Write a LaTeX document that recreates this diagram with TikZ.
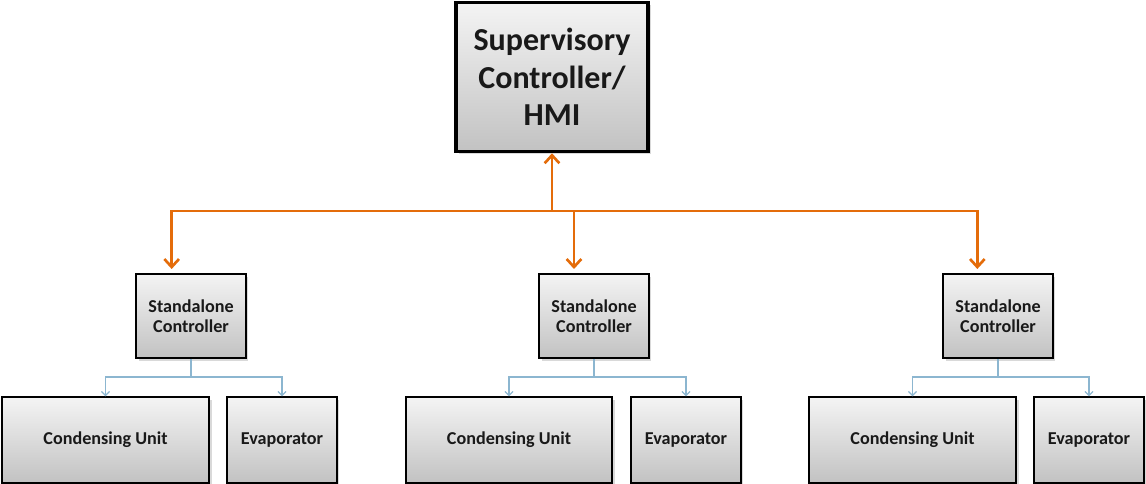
\documentclass[tikz,border=0pt]{standalone}
\usepackage{fontspec}
\setmainfont{Carlito}
\usetikzlibrary{arrows.meta,shadows}
\definecolor{orng}{RGB}{228,108,10}
\definecolor{lblue}{RGB}{140,182,208}
\definecolor{gtop}{RGB}{244,244,244}
\definecolor{gbot}{RGB}{194,194,194}
\tikzset{
  gbox/.style={draw=black, line width=1.5pt, top color=gtop, bottom color=gbot,
    align=center, inner sep=0pt, font=\bfseries\fontsize{13.6}{15}\selectfont, text=black!90,
    drop shadow={shadow xshift=2pt, shadow yshift=-2pt, opacity=0.3}},
  topbox/.style={gbox, line width=2.4pt, minimum width=144pt, minimum height=112pt,
    font=\bfseries\fontsize{24}{28}\selectfont},
  ctrl/.style={gbox, minimum width=82pt, minimum height=63pt},
  cond/.style={gbox, minimum width=155pt, minimum height=64pt},
  evap/.style={gbox, minimum width=82pt, minimum height=64pt},
  oline/.style={draw=orng, line width=2.2pt},
  oarr/.style={oline, -{Straight Barb[length=6pt,width=11pt,line width=2pt]}},
  barr/.style={draw=lblue, line width=1.1pt, -{Straight Barb[length=3pt,width=6pt,line width=0.9pt]}},
}
\begin{document}
\begin{tikzpicture}[x=0.75pt,y=-0.75pt]
\useasboundingbox (0,0) rectangle (1146,484);
\node[topbox] (top) at (552,77) {Supervisory\\Controller/\\HMI};
\node[ctrl] (c1) at (191,316) {Standalone\\Controller};
\node[ctrl] (c2) at (594,316) {Standalone\\Controller};
\node[ctrl] (c3) at (998,316) {Standalone\\Controller};
\node[cond] (u1) at (105.5,440) {Condensing Unit};
\node[evap] (e1) at (282,440) {Evaporator};
\node[cond] (u2) at (509,440) {Condensing Unit};
\node[evap] (e2) at (686,440) {Evaporator};
\node[cond] (u3) at (912.5,440) {Condensing Unit};
\node[evap] (e3) at (1089,440) {Evaporator};
\coordinate (j) at (552,211);
\draw[oarr] (j) -- (top.south);
\draw[oarr] (j) -| ([xshift=-14.5pt,yshift=3pt]c1.north);
\draw[oarr] (j) -| ([xshift=-15pt,yshift=3pt]c2.north);
\draw[oarr] (j) -| ([xshift=-15.5pt,yshift=3pt]c3.north);
\foreach \c/\u/\e in {c1/u1/e1, c2/u2/e2, c3/u3/e3}{
  \draw[lblue, line width=1.1pt] (\c.south) -- ++(0,18) coordinate (m\c);
  \draw[barr] (m\c) -| (\u.north);
  \draw[barr] (m\c) -| (\e.north);
}
\end{tikzpicture}
\end{document}
